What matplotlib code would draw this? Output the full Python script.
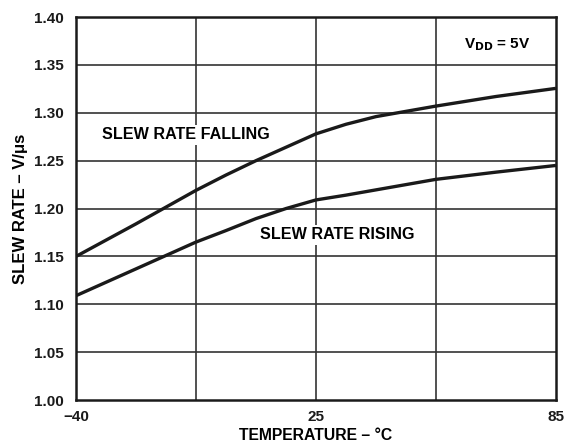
import matplotlib.pyplot as plt

plt.rcParams['font.family'] = ['Liberation Sans', 'DejaVu Sans']
plt.rcParams['font.weight'] = 'bold'

# x positions in grid divisions (0 = -40 C, 2 = 25 C, 4 = 85 C)
grid_x = [0, 0.5, 1, 1.25, 1.5, 1.75, 2, 2.25, 2.5, 3, 3.5, 4]
falling = [1.150, 1.184, 1.219, 1.235, 1.250, 1.264, 1.278, 1.288, 1.296, 1.307, 1.317, 1.3255]
rising = [1.109, 1.137, 1.165, 1.177, 1.1895, 1.200, 1.209, 1.214, 1.2195, 1.2305, 1.238, 1.245]

x_tick_pos = [0, 2, 4]
x_tick_labels = ['\u221240', '25', '85']
y_ticks = [1.00, 1.05, 1.10, 1.15, 1.20, 1.25, 1.30, 1.35, 1.40]

fig = plt.figure(figsize=(5.65, 4.48), dpi=100)
ax = fig.add_axes([0.1345, 0.107, 0.8495, 0.855])

ax.set_xlim(0, 4)
ax.set_ylim(1.00, 1.40)

# grid
for gx in [1, 2, 3]:
    ax.axvline(gx, color='#333333', lw=1.2, zorder=1)
for gy in y_ticks[1:-1]:
    ax.axhline(gy, color='#333333', lw=1.2, zorder=1)

ax.plot(grid_x, falling, color='#1a1a1a', lw=2.4, zorder=3, solid_capstyle='butt')
ax.plot(grid_x, rising, color='#1a1a1a', lw=2.4, zorder=3, solid_capstyle='butt')

ax.set_xticks(x_tick_pos)
ax.set_xticklabels(x_tick_labels)
ax.set_yticks(y_ticks)
ax.set_yticklabels([f'{v:.2f}' for v in y_ticks])
ax.tick_params(length=0, labelsize=11, colors='#1a1a1a')
ax.tick_params(axis='x', pad=7)
ax.tick_params(axis='y', pad=9)

for s in ax.spines.values():
    s.set_linewidth(1.8)
    s.set_color('#1a1a1a')

ax.set_xlabel('TEMPERATURE \u2013 \u00b0C', fontsize=11.3, fontweight='bold', labelpad=3)
ax.set_ylabel('SLEW RATE \u2013 V/\u03bcs', fontsize=12, fontweight='bold', labelpad=4)

box = dict(facecolor='white', edgecolor='none', pad=2)
ax.text(0.214, 1.277, 'SLEW RATE FALLING', fontsize=11.6, fontweight='bold',
        ha='left', va='center', bbox=box, zorder=2)
ax.text(1.533, 1.1725, 'SLEW RATE RISING', fontsize=11.6, fontweight='bold',
        ha='left', va='center', bbox=box, zorder=2)
ax.text(3.51, 1.3707, r'V$_{\mathbf{DD}}$ = 5V', fontsize=11, fontweight='bold',
        ha='center', va='center', zorder=2)

fig.savefig('out.png', dpi=100)
